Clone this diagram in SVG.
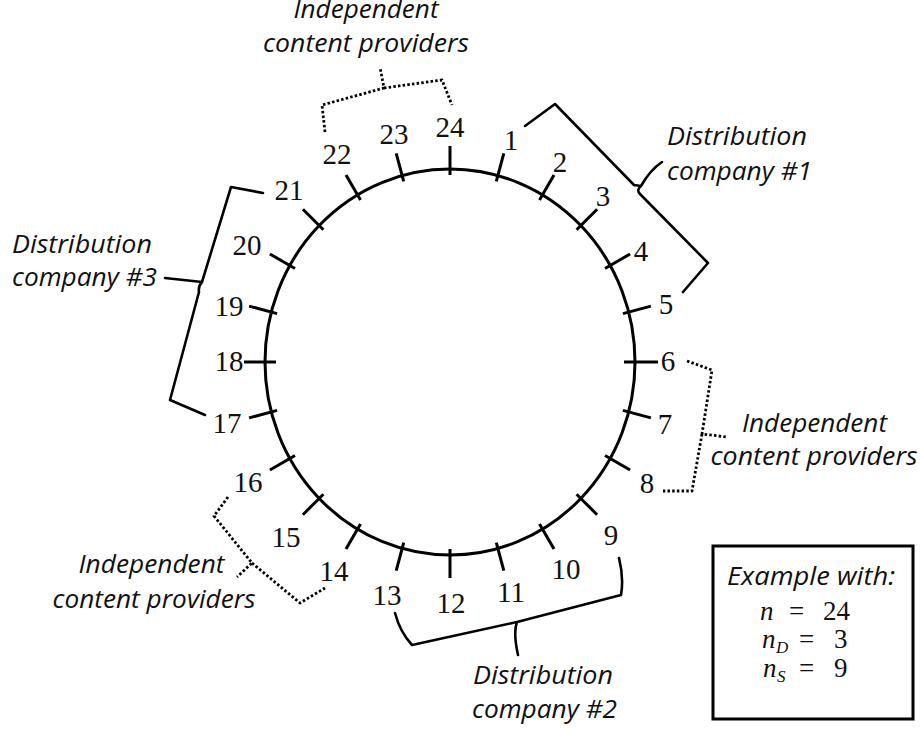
<svg xmlns="http://www.w3.org/2000/svg" width="924" height="729" viewBox="0 0 924 729">
<style>
.ln{fill:none;stroke:#000;stroke-width:3;stroke-linecap:butt;stroke-linejoin:round}
.br{fill:none;stroke:#000;stroke-width:2.6;stroke-linejoin:round;stroke-linecap:round}
.dt{fill:none;stroke:#000;stroke-width:2.8;stroke-dasharray:2.5 2.2;stroke-linejoin:round}
.num{font-family:"Liberation Serif",serif;font-size:29px;fill:#111;text-anchor:middle}
.lab{font-family:"Open Sans","Liberation Sans",sans-serif;font-style:italic;font-size:26px;fill:#111;text-anchor:middle}
.math{font-family:"Liberation Serif",serif;font-size:27px;fill:#111}
</style>
<rect width="924" height="729" fill="#fff"/>
<g id="ring">
<ellipse class="ln" cx="450" cy="362" rx="185" ry="193"/>
</g>
<g id="ticks" class="ln">
<line x1="496.3" y1="181.4" x2="503.8" y2="153.4"/>
<line x1="539.5" y1="200.1" x2="554" y2="174.9"/>
<line x1="576.6" y1="229.8" x2="597.1" y2="209.3"/>
<line x1="605" y1="268.5" x2="630.1" y2="254"/>
<line x1="622.9" y1="313.6" x2="650.9" y2="306.1"/>
<line x1="624" y1="362" x2="658" y2="362"/>
<line x1="622.9" y1="410.4" x2="650.9" y2="417.9"/>
<line x1="605" y1="455.5" x2="630.1" y2="470"/>
<line x1="576.6" y1="494.2" x2="597.1" y2="514.7"/>
<line x1="539.5" y1="523.9" x2="554" y2="549.1"/>
<line x1="496.3" y1="542.6" x2="503.8" y2="570.6"/>
<line x1="450" y1="549" x2="450" y2="578"/>
<line x1="403.7" y1="542.6" x2="396.2" y2="570.6"/>
<line x1="360.5" y1="523.9" x2="346" y2="549.1"/>
<line x1="323.4" y1="494.2" x2="302.9" y2="514.7"/>
<line x1="295" y1="455.5" x2="269.9" y2="470"/>
<line x1="277.1" y1="410.4" x2="249.1" y2="417.9"/>
<line x1="276" y1="362" x2="244" y2="362"/>
<line x1="277.1" y1="313.6" x2="249.1" y2="306.1"/>
<line x1="295" y1="268.5" x2="269.9" y2="254"/>
<line x1="323.4" y1="229.8" x2="302.9" y2="209.3"/>
<line x1="360.5" y1="200.1" x2="346" y2="174.9"/>
<line x1="403.7" y1="181.4" x2="396.2" y2="153.4"/>
<line x1="450" y1="175" x2="450" y2="146"/>
</g>
<g id="numbers" class="num">
<text x="511" y="150">1</text>
<text x="560" y="172">2</text>
<text x="603" y="206">3</text>
<text x="641" y="261">4</text>
<text x="666" y="314">5</text>
<text x="668" y="371">6</text>
<text x="665" y="434">7</text>
<text x="647" y="493">8</text>
<text x="611" y="545">9</text>
<text x="566" y="579">10</text>
<text x="511" y="602">11</text>
<text x="451" y="613">12</text>
<text x="387" y="605">13</text>
<text x="334" y="581">14</text>
<text x="286" y="547">15</text>
<text x="248" y="492">16</text>
<text x="227" y="433">17</text>
<text x="229" y="371">18</text>
<text x="229" y="316">19</text>
<text x="247" y="255">20</text>
<text x="289" y="200">21</text>
<text x="337" y="164">22</text>
<text x="394" y="144">23</text>
<text x="450" y="137">24</text>
</g>
<g id="connectors">
<path class="br" d="M525,126 L555,104 L634,185 M634,185 L641,186 Q650,170 662,162 M641,186 Q636,190 640,194 L708,263 L683,292"/>
<path class="br" d="M619,558 Q624,578 621,595 L517,622 Q513,632 518,655 M517,622 L412,645 Q400,632 395,613"/>
<path class="br" d="M263,193 L231,187 L202,282 L165,278 M202,282 Q198,286 199,292 L170,400 L205,415"/>
<path class="dt" d="M325,132 L322,105 L384,88 L380,67 M384,88 L442,80 L452,105"/>
<path class="dt" d="M687,361 L712,370 L702,434 L727,437 M702,434 L692,491 L663,491"/>
<path class="dt" d="M228,497 L214,516 L252,563 L237,577 M252,563 L300,603 L325,588"/>
</g>
<g id="label-icp-top" class="lab">
<text x="366" y="18" textLength="145" lengthAdjust="spacingAndGlyphs">Independent</text>
<text x="366" y="52" textLength="206" lengthAdjust="spacingAndGlyphs">content providers</text>
</g>
<g id="label-dc1" class="lab">
<text x="737" y="145" textLength="140" lengthAdjust="spacingAndGlyphs">Distribution</text>
<text x="739.5" y="180" textLength="145" lengthAdjust="spacingAndGlyphs">company #1</text>
</g>
<g id="label-icp-right" class="lab">
<text x="814.5" y="432" textLength="145" lengthAdjust="spacingAndGlyphs">Independent</text>
<text x="814" y="465" textLength="207" lengthAdjust="spacingAndGlyphs">content providers</text>
</g>
<g id="label-icp-left" class="lab">
<text x="151.5" y="573" textLength="146" lengthAdjust="spacingAndGlyphs">Independent</text>
<text x="154" y="608" textLength="203" lengthAdjust="spacingAndGlyphs">content providers</text>
</g>
<g id="label-dc2" class="lab">
<text x="543" y="684" textLength="140" lengthAdjust="spacingAndGlyphs">Distribution</text>
<text x="544.5" y="718" textLength="145" lengthAdjust="spacingAndGlyphs">company #2</text>
</g>
<g id="label-dc3" class="lab">
<text x="82" y="253" textLength="140" lengthAdjust="spacingAndGlyphs">Distribution</text>
<text x="84.5" y="286" textLength="145" lengthAdjust="spacingAndGlyphs">company #3</text>
</g>
<g id="example-box">
<rect x="713" y="546" width="200" height="173" fill="none" stroke="#000" stroke-width="3"/>
<text class="lab" x="811" y="585" textLength="168" lengthAdjust="spacingAndGlyphs">Example with:</text>
<text class="math" x="760" y="620"><tspan font-style="italic">n</tspan><tspan x="789">=</tspan><tspan x="823">24</tspan></text>
<text class="math" x="762" y="648"><tspan font-style="italic">n</tspan><tspan x="776" y="653" font-size="17" font-style="italic">D</tspan><tspan x="799" y="648">=</tspan><tspan x="834">3</tspan></text>
<text class="math" x="763" y="677"><tspan font-style="italic">n</tspan><tspan x="777" y="682" font-size="17" font-style="italic">S</tspan><tspan x="799" y="677">=</tspan><tspan x="834">9</tspan></text>
</g>
</svg>
